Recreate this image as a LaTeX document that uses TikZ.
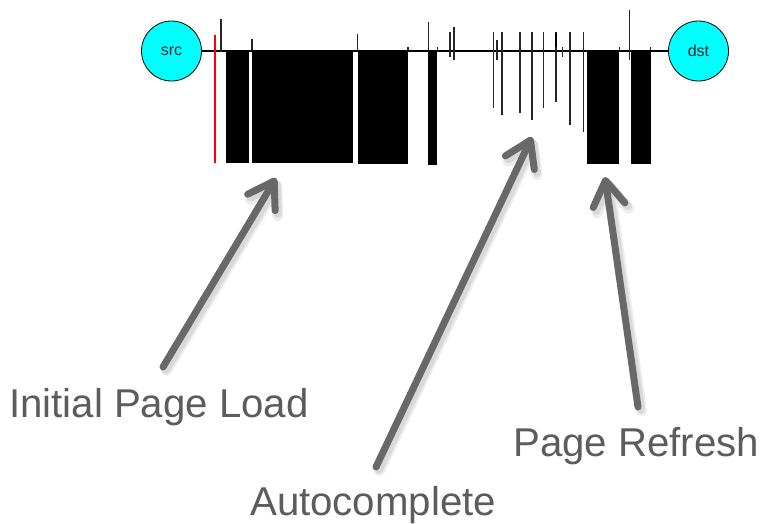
\documentclass[tikz,border=0pt]{standalone}
\usepackage{fontspec}
\setmainfont{Liberation Sans}
\usetikzlibrary{arrows.meta}
\definecolor{arrowgray}{HTML}{686868}
\definecolor{labelgray}{HTML}{5C5C5C}
\definecolor{hostcyan}{HTML}{00FFFF}
\begin{document}
\begin{tikzpicture}[x=1pt,y=-1pt,
  host/.style={circle,draw=black,line width=0.8pt,fill=hostcyan,minimum size=60pt,
    inner sep=0pt,text=black!85,font=\fontsize{16}{18}\selectfont},
  burst/.style={fill=black},
  pkt/.style={draw=black!85,line width=1.6pt},
  calltip/.style={-{Straight Barb[length=25pt,width=32pt,round]}},
  callout/.style={calltip,draw=arrowgray,line width=7pt,line cap=round},
  shadowA/.style={calltip,draw=black!7,line width=11pt,line cap=round},
  shadowB/.style={calltip,draw=black!15,line width=8pt,line cap=round},
  annot/.style={text=labelgray,font=\fontsize{40.2}{45}\selectfont,inner sep=0pt,anchor=base west}]
\useasboundingbox (0,0) rectangle (763,523);

% hosts and the connection line
\node[host] (src) at (171.5,51) {src};
\node[host] (dst) at (698.5,51) {dst};
\draw[black,line width=1.2pt] (src) -- (dst);

% red marker
\draw[red,line width=1.5pt] (215,35) -- (215,163);

% dense bursts of traffic
\foreach \l/\r/\b in {226/249/163, 251.7/353.3/163, 357.7/408.3/164, 428.3/437/164.5,
                      587.3/619.3/164, 630.7/650.7/164}
  \fill[burst] (\l,50.5) rectangle (\r,\b);

% individual packets
\foreach \x/\a/\b in {220.7/19/52, 252/39/50, 357.3/34/50, 408/47/50, 428.3/22/50,
                      437.5/47/50, 450/32/57, 454/27/60, 493.3/32/108, 496.7/40/60,
                      501.7/32/115, 520/32/113, 531.7/32/120, 543.3/32/108,
                      555.7/32/101.7, 562.3/47/57, 570/32/125, 583.3/32/131.7,
                      619.3/47/50, 629.3/10/60, 650.5/47/50}
  \draw[pkt] (\x,\a) -- (\x,\b);
\draw[black,line width=2.4pt] (555.7,33) -- (555.7,47);

% annotations
\node[annot] (load) at (9,417.5) {Initial Page Load};
\node[annot] (auto) at (250,515) {Autocomplete};
\node[annot] (refresh) at (513,456.5) {Page Refresh};

\coordinate (loadtail) at (163,367);
\coordinate (loadtip) at (276,178);
\coordinate (autotail) at (376,467);
\coordinate (autotip) at (532,137);
\coordinate (refreshtail) at (638,407);
\coordinate (refreshtip) at (605,177);

% soft shadows under the callout arrows
\foreach \t in {load,auto,refresh}{
  \draw[shadowA] ([shift={(3.5,3.5)}]\t tail) -- ([shift={(3.5,3.5)}]\t tip);
  \draw[shadowB] ([shift={(3,3)}]\t tail) -- ([shift={(3,3)}]\t tip);
}
% callout arrows
\foreach \t in {load,auto,refresh}
  \draw[callout] (\t tail) -- (\t tip);
\end{tikzpicture}
\end{document}
